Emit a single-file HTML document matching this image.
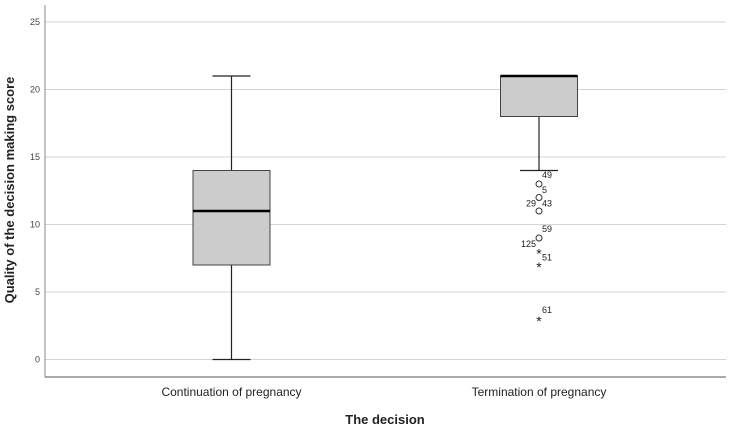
<!DOCTYPE html>
<html><head><meta charset="utf-8"><style>
body{margin:0;background:#fff;}
svg text{font-family:"Liberation Sans",sans-serif;}
</style></head><body>
<svg id="chart" width="730" height="428" xmlns="http://www.w3.org/2000/svg"></svg>
<script>
const categories = ["Continuation of pregnancy", "Termination of pregnancy"];
const mins = [0, 14];
const q1s = [7, 18];
const medians = [11, 21];
const q3s = [14, 21];
const maxs = [21, 21];
const yTicks = [0, 5, 10, 15, 20, 25];
const outlierValues = [13, 12, 11, 9, 8, 7, 3];
const outlierTypes = ["o", "o", "o", "o", "*", "*", "*"];
const outlierGroup = [1, 1, 1, 1, 1, 1, 1];
const outlierLabels = [["49", "5"], ["29", "43"], [], ["59", "125"], ["51"], [], ["61"]];
const outlierLabelSides = [["ur", "lr"], ["ll", "lr"], [], ["ur", "ll"], ["lr"], [], ["ur"]];

const NS = "http://www.w3.org/2000/svg";
const svg = document.getElementById("chart");
const L = 45, R = 726, T = 5, B = 377;
function y(v){ return 359.5 - v * 13.5; }
function x(i){ return 231.5 + i * 307.5; }
function mk(tag, attrs, parent){
  const e = document.createElementNS(NS, tag);
  for (const k in attrs) e.setAttribute(k, attrs[k]);
  (parent || svg).appendChild(e);
  return e;
}
function txt(s, attrs){ const e = mk("text", attrs); e.textContent = s; return e; }

yTicks.forEach(v => {
  const g = mk("line", {x1: L, x2: R, y1: y(v), y2: y(v), stroke: "#d4d4d4", "stroke-width": 1});
  
  
  const t = txt(String(v), {x: 40, y: y(v) + 3, "text-anchor": "end", "font-size": 9, fill: "#444"});
  
  
});
const ya = mk("line", {x1: L, x2: L, y1: T, y2: B, stroke: "#888", "stroke-width": 1});


const xa = mk("line", {x1: L, x2: R, y1: B, y2: B, stroke: "#555", "stroke-width": 1});



const halfW = 38.5, capW = 19;
categories.forEach((c, i) => {
  const cx = x(i);
  const g = mk("g", {});
  
  
  mk("line", {x1: cx, x2: cx, y1: y(maxs[i]), y2: y(q3s[i]), stroke: "#222", "stroke-width": 1.2}, g);
  mk("line", {x1: cx, x2: cx, y1: y(q1s[i]), y2: y(mins[i]), stroke: "#222", "stroke-width": 1.2}, g);
  mk("line", {x1: cx - capW, x2: cx + capW, y1: y(maxs[i]), y2: y(maxs[i]), stroke: "#222", "stroke-width": 1.2}, g);
  mk("line", {x1: cx - capW, x2: cx + capW, y1: y(mins[i]), y2: y(mins[i]), stroke: "#222", "stroke-width": 1.2}, g);
  mk("rect", {x: cx - halfW, y: y(q3s[i]), width: halfW * 2, height: y(q1s[i]) - y(q3s[i]), fill: "#cccccc", stroke: "#444", "stroke-width": 1}, g);
  mk("line", {x1: cx - halfW, x2: cx + halfW, y1: y(medians[i]), y2: y(medians[i]), stroke: "#000", "stroke-width": 2.5}, g);
  const t = txt(c, {x: cx, y: 396, "text-anchor": "middle", "font-size": 12, fill: "#222"});
  
  
});

outlierValues.forEach((v, k) => {
  const cx = x(outlierGroup[k]), cy = y(v);
  let m;
  if (outlierTypes[k] === "o") {
    m = mk("circle", {cx: cx, cy: cy, r: 3, fill: "none", stroke: "#333", "stroke-width": 1});
  } else {
    m = txt("*", {x: cx, y: cy + 7, "text-anchor": "middle", "font-size": 14, fill: "#222"});
  }
  
  
  outlierLabels[k].forEach((s, j) => {
    const side = outlierLabelSides[k][j];
    const right = side[1] === "r";
    const up = side[0] === "u";
    const a = txt(s, {x: right ? cx + 3 : cx - 3, y: up ? cy - 6 : cy + 9, "text-anchor": right ? "start" : "end", "font-size": 9, fill: "#222"});
    
    
  });
});

const xt = txt("The decision", {x: 385, y: 424, "text-anchor": "middle", "font-size": 13, "font-weight": "bold", fill: "#222"});


const ytl = txt("Quality of the decision making score", {x: 0, y: 0, "text-anchor": "middle", "font-size": 13, "font-weight": "bold", fill: "#222", transform: "translate(14,190) rotate(-90)"});


</script>
</body></html>
